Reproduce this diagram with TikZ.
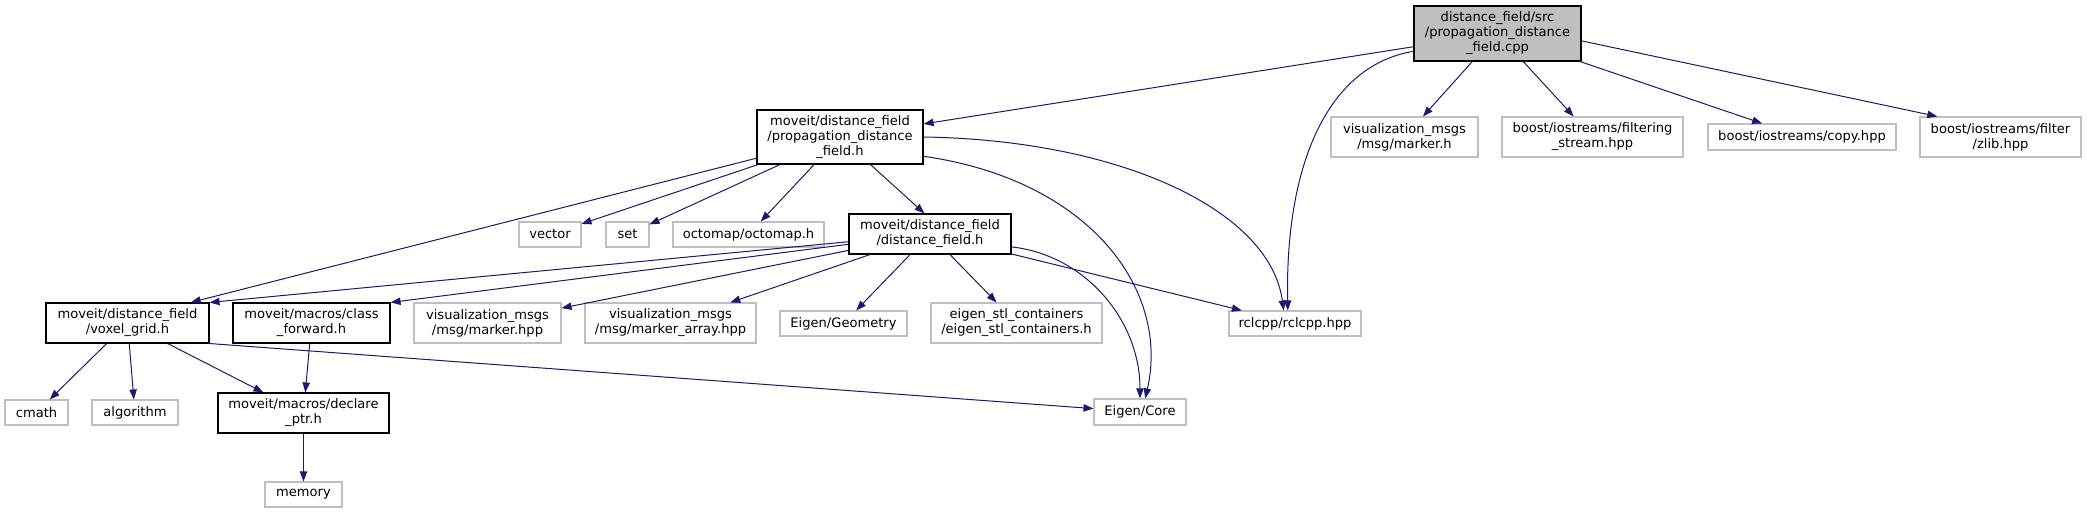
\documentclass[tikz,border=0pt]{standalone}
\usepackage{fontspec}
\setmainfont{DejaVu Sans}
\usetikzlibrary{arrows.meta}
\definecolor{edgeblue}{HTML}{191970}
\definecolor{grey75}{HTML}{BFBFBF}
\newcommand{\leftln}[1]{#1\hfill\null}

\begin{document}
\begin{tikzpicture}[x=0.75pt, y=-0.75pt, >={Triangle[length=7.5pt,width=5.5pt]},
    every node/.style={rectangle, inner sep=0pt, align=center, font=\fontsize{9.8}{11.25}\selectfont},
    rootbox/.style={draw=black, fill=grey75, line width=0.8pt},
    projbox/.style={draw=black, fill=white, line width=0.8pt},
    sysbox/.style={draw=grey75, fill=white, line width=0.8pt},
    sz/.style 2 args={minimum width=#1*0.75pt, minimum height=#2*0.75pt},
    dep/.style={->, edgeblue, line width=0.75pt}]
        \useasboundingbox (0,0) rectangle (2087,513);
        % top row
        \node[rootbox, sz={167}{55}] (root) at (1497.5,33.5) {\leftln{distance\_field/src}\\/propagation\_distance\\\_field.cpp};
        \node[projbox, sz={166}{54}] (prop) at (840,137) {moveit/distance\_field\\/propagation\_distance\\\_field.h};
        \node[sysbox, sz={147}{40}] (mh) at (1404.5,137) {visualization\_msgs\\/msg/marker.h};
        \node[sysbox, sz={181}{40}] (fs) at (1592.5,137) {boost/iostreams/filtering\\\_stream.hpp};
        \node[sysbox, sz={188}{26}] (cp) at (1802,137) {boost/iostreams/copy.hpp};
        \node[sysbox, sz={161}{40}] (zl) at (2000.5,137) {boost/iostreams/filter\\/zlib.hpp};
        % second row
        \node[sysbox, sz={62}{25}] (vec) at (550,234.5) {vector};
        \node[sysbox, sz={43}{25}] (set) at (627.5,234.5) {set};
        \node[sysbox, sz={151}{25}] (oct) at (748.5,234.5) {octomap/octomap.h};
        \node[projbox, sz={162}{40}] (df) at (930,234) {moveit/distance\_field\\/distance\_field.h};
        % third row
        \node[projbox, sz={163}{40}] (voxel) at (127.5,323) {moveit/distance\_field\\/voxel\_grid.h};
        \node[projbox, sz={157}{40}] (cf) at (311.5,323) {moveit/macros/class\\\_forward.h};
        \node[sysbox, sz={147}{40}] (mhpp) at (487.5,323) {visualization\_msgs\\/msg/marker.hpp};
        \node[sysbox, sz={171}{40}] (ma) at (670.5,323) {\leftln{visualization\_msgs}\\/msg/marker\_array.hpp};
        \node[sysbox, sz={127}{25}] (geo) at (843.5,323.5) {Eigen/Geometry};
        \node[sysbox, sz={171}{40}] (stl) at (1016.5,323) {\leftln{eigen\_stl\_containers}\\/eigen\_stl\_containers.h};
        \node[sysbox, sz={132}{25}] (rcl) at (1295,323.5) {rclcpp/rclcpp.hpp};
        % bottom rows
        \node[sysbox, sz={63}{25}] (cmath) at (36.5,412.5) {cmath};
        \node[sysbox, sz={86}{25}] (alg) at (135,412.5) {algorithm};
        \node[projbox, sz={171}{40}] (dp) at (303.5,413) {moveit/macros/declare\\\_ptr.h};
        \node[sysbox, sz={92}{26}] (core) at (1140,412) {Eigen/Core};
        \node[sysbox, sz={77}{25}] (mem) at (303.5,494.5) {memory};

        \draw[dep] (root) -- (prop);
        \draw[dep] (root.192) .. controls (1330,65) and (1285,160) .. (rcl.119);
        \draw[dep] (root) -- (mh);
        \draw[dep] (root) -- (fs);
        \draw[dep] (root) -- (cp);
        \draw[dep] (root.-5) -- (zl.162);
        \draw[dep] (prop) -- (voxel.18);
        \draw[dep] (prop) -- (vec);
        \draw[dep] (prop) -- (set);
        \draw[dep] (prop) -- (oct);
        \draw[dep] (prop) -- (df.105);
        \draw[dep] (prop.east) .. controls (1120,140) and (1270,210) .. (rcl.131);
        \draw[dep] (prop.-13) .. controls (1090,180) and (1170,290) .. (core.69);
        \draw[dep] (df) -- (voxel.north east);
        \draw[dep] (df) -- (cf.north east);
        \draw[dep] (df) -- (mhpp);
        \draw[dep] (df) -- (ma);
        \draw[dep] (df) -- (geo);
        \draw[dep] (df) -- (stl);
        \draw[dep] (df.-9) .. controls (1085,255) and (1140,320) .. (core.north);
        \draw[dep] (df) -- (rcl);
        \draw[dep] (voxel) -- (cmath);
        \draw[dep] (voxel) -- (alg);
        \draw[dep] (voxel) -- (dp);
        \draw[dep] (voxel.south east) -- (core);
        \draw[dep] (cf) -- (dp);
        \draw[dep] (dp) -- (mem);
    \end{tikzpicture}
\end{document}
